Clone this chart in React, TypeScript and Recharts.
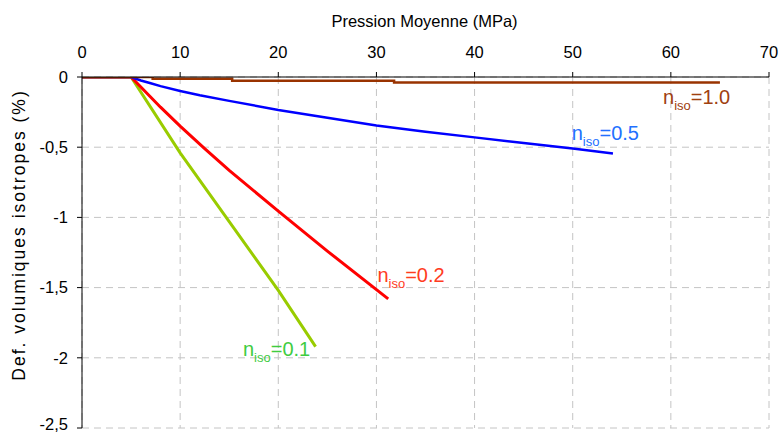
import React from "react";
import { LineChart, Line, XAxis, YAxis, CartesianGrid, ReferenceDot } from "recharts";

const xTicks = [0, 10, 20, 30, 40, 50, 60, 70];
const yTicks = [0, -0.5, -1, -1.5, -2, -2.5];

const pressureN10 = [0, 7.2, 15.3, 31.8, 65];
const defN10 = [0, -0.012, -0.027, -0.04, -0.04];

const pressureN05 = [0, 5, 6, 7, 8, 10, 12, 15, 20, 25, 30, 35, 40, 45, 50, 54.1];
const defN05 = [0, 0, -0.025, -0.045, -0.065, -0.1, -0.13, -0.17, -0.235, -0.29, -0.345, -0.39, -0.43, -0.47, -0.51, -0.545];

const pressureN02 = [0, 5, 8, 10, 12.5, 15, 20, 25, 31.2];
const defN02 = [0, 0, -0.215, -0.35, -0.51, -0.665, -0.955, -1.24, -1.58];

const pressureN01 = [0, 5, 10, 15, 20, 23.8];
const defN01 = [0, 0, -0.54, -1.03, -1.52, -1.92];

const seriesLabels = [
  { text: "1.0", x: 59.2, y: -0.194, color: "#a0400f" },
  { text: "0.5", x: 49.9, y: -0.45, color: "#2270ff" },
  { text: "0.2", x: 30.1, y: -1.458, color: "#ff3c1e" },
  { text: "0.1", x: 16.4, y: -1.987, color: "#3fcc3f" },
];

const toPoints = (xs: number[], ys: number[]) => xs.map((x, i) => ({ x, y: ys[i] }));

const FONT = "'Liberation Sans', Arial, sans-serif";

const fmtY = (v: number) => (v === 0 ? "0" : String(v).replace(".", ","));

const SeriesLabel = ({ cx, cy, text, color }: any) => (
  <text x={cx} y={cy} fill={color} fontSize={20} fontFamily={FONT}>
    <tspan>n</tspan>
    <tspan fontSize={13} dy={6}>iso</tspan>
    <tspan dy={-6}>={text}</tspan>
  </text>
);

export default function App() {
  return (
    <div style={{ position: "absolute", left: 0, top: 0, background: "#fff" }}>
      <LineChart width={782} height={434} margin={{ top: 0, right: 13, bottom: 6, left: 0 }}>
        <CartesianGrid stroke="#c4c4c4" strokeDasharray="7 5" />
        <XAxis
          type="number"
          dataKey="x"
          orientation="top"
          domain={[0, 70]}
          ticks={xTicks}
          height={77}
          allowDataOverflow
          axisLine={{ stroke: "#000" }}
          tickLine={{ stroke: "#000" }}
          tickSize={5}
          tickMargin={14}
          tick={{ fill: "#000", fontSize: 16.5, fontFamily: FONT }}
          label={{
            content: (p: any) => {
              const vb = p.viewBox || {};
              return (
                <text
                  x={vb.x + vb.width / 2 - 1}
                  y={27}
                  textAnchor="middle"
                  fill="#000"
                  fontSize={16.5}
                  fontFamily={FONT}
                >
                  Pression Moyenne (MPa)
                </text>
              );
            },
          }}
        />
        <YAxis
          type="number"
          dataKey="y"
          domain={[-2.5, 0]}
          ticks={yTicks}
          width={82}
          allowDataOverflow
          axisLine={{ stroke: "#000" }}
          tickLine={{ stroke: "#000" }}
          tickSize={5}
          tickMargin={9}
          tickFormatter={fmtY}
          tick={{ fill: "#000", fontSize: 16.5, fontFamily: FONT }}
          label={{
            content: () => (
              <text
                x={25}
                y={235}
                transform="rotate(-90, 25, 235)"
                textAnchor="middle"
                fill="#000"
                fontSize={17.5}
                letterSpacing={2}
                fontFamily={FONT}
              >
                Def. volumiques isotropes (%)
              </text>
            ),
          }}
        />
        <Line data={toPoints(pressureN01, defN01)} dataKey="y" stroke="#99cc00" strokeWidth={3} dot={false} isAnimationActive={false} />
        <Line data={toPoints(pressureN02, defN02)} dataKey="y" stroke="#ff0000" strokeWidth={3} dot={false} isAnimationActive={false} />
        <Line data={toPoints(pressureN05, defN05)} dataKey="y" stroke="#0000ff" strokeWidth={2.5} dot={false} isAnimationActive={false} />
        <Line data={toPoints(pressureN10, defN10)} dataKey="y" type="stepAfter" stroke="#993300" strokeWidth={2.5} dot={false} isAnimationActive={false} />
        {seriesLabels.map((s) => (
          <ReferenceDot
            key={s.text}
            x={s.x}
            y={s.y}
            r={0}
            shape={(p: any) => <SeriesLabel cx={p.cx} cy={p.cy} text={s.text} color={s.color} />}
          />
        ))}
      </LineChart>
    </div>
  );
}
